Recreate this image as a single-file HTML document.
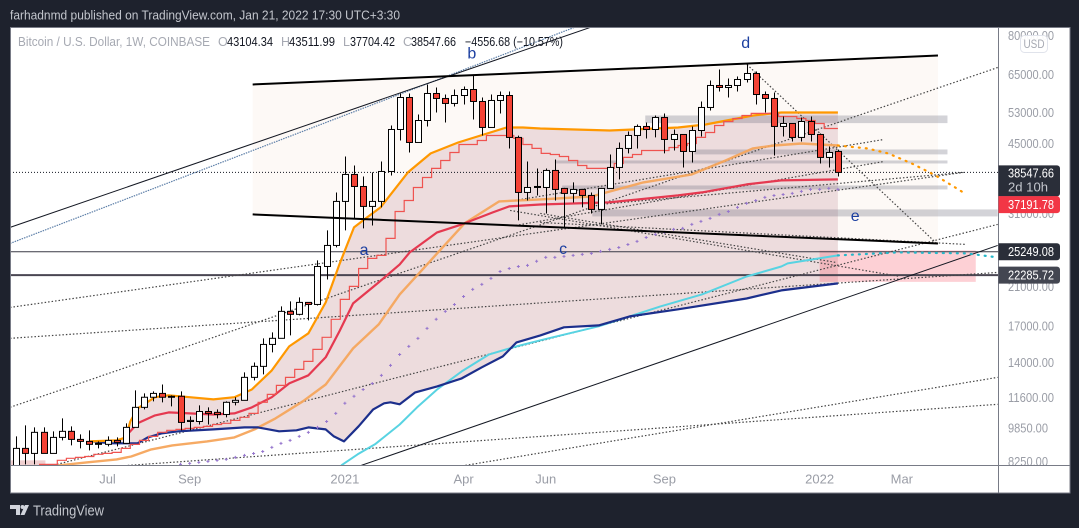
<!DOCTYPE html>
<html lang="en">
<head>
<meta charset="utf-8">
<title>Bitcoin / U.S. Dollar 1W chart</title>
<style>
html,body{margin:0;padding:0;width:1079px;height:528px;overflow:hidden;background:#1e222d}
svg{display:block;font-family:"Liberation Sans",sans-serif}
</style>
</head>
<body>
<svg id="root" xmlns="http://www.w3.org/2000/svg" width="1079" height="528" viewBox="0 0 1079 528">
  <defs>
    <clipPath id="pane"><rect x="11" y="28" width="987" height="437"/></clipPath>
  </defs>
  <rect x="0" y="0" width="1079" height="528" fill="#1e222d"/>
  <text x="10" y="19.5" font-size="13" fill="#c3c6cd" textLength="390" lengthAdjust="spacingAndGlyphs">farhadnmd published on TradingView.com, Jan 21, 2022 17:30 UTC+3:30</text>
  <rect x="10.5" y="27.5" width="1059.5" height="465.5" fill="#ffffff" stroke="#787b86" stroke-width="1"/>
  <g id="pane-layer" clip-path="url(#pane)"></g>
  <g id="axis-layer"></g>
  <line x1="10.5" y1="465.5" x2="1070" y2="465.5" stroke="#787b86"/>
  <line x1="998.5" y1="27.5" x2="998.5" y2="493" stroke="#787b86"/>
  <g font-size="12.5">
    <text x="18" y="46" fill="#a6a9b2" textLength="192" lengthAdjust="spacingAndGlyphs">Bitcoin / U.S. Dollar, 1W, COINBASE</text>
    <text x="218" y="46" fill="#a6a9b2">O</text>
    <text x="227" y="46" fill="#131722" textLength="46" lengthAdjust="spacingAndGlyphs">43104.34</text>
    <text x="281" y="46" fill="#a6a9b2">H</text>
    <text x="289" y="46" fill="#131722" textLength="46" lengthAdjust="spacingAndGlyphs">43511.99</text>
    <text x="343" y="46" fill="#a6a9b2">L</text>
    <text x="350" y="46" fill="#131722" textLength="45" lengthAdjust="spacingAndGlyphs">37704.42</text>
    <text x="403" y="46" fill="#a6a9b2">C</text>
    <text x="411" y="46" fill="#131722" textLength="45" lengthAdjust="spacingAndGlyphs">38547.66</text>
    <text x="465" y="46" fill="#131722" textLength="98" lengthAdjust="spacingAndGlyphs">−4556.68 (−10.57%)</text>
  </g>
  <g id="tag-layer"></g>
  <g>
    <rect x="1020.5" y="35.5" width="27" height="17" rx="4" fill="#ffffff" fill-opacity="0.92" stroke="#e0e3eb"/>
    <text x="1034" y="48" font-size="12" fill="#a6a9b2" text-anchor="middle" textLength="21" lengthAdjust="spacingAndGlyphs">USD</text>
  </g>
  <g>
    <path d="M10 505h10v10h-4v-6h-6zM25 505h4l-4.500 10h-4z" fill="#d1d4dc"/>
    <circle cx="22.500" cy="507" r="2" fill="#d1d4dc"/>
    <text x="33" y="515.500" font-size="15" fill="#c3c6cd" textLength="71" lengthAdjust="spacingAndGlyphs">TradingView</text>
  </g>
</svg>
<script>
/* ---------- candle data (USD) ---------- */
var opens  = [7870,8846,8612,9636,8612,9380,9688,9280,9182,9086,9038,9230,9086,9895,11010,11620,11860,11680,11680,10210,10210,10770,10720,10600,11310,11430,12920,13700,15400,15910,18370,18080,19270,19060,23340,26110,33020,38130,35760,32150,33020,38740,48460,57480,45220,50840,58720,57180,55680,58090,59980,56270,48990,56570,58090,46450,34640,35570,35570,38950,35390,34460,35200,34090,31640,35390,39580,43800,46940,49250,48460,51670,45950,47190,43100,48200,54500,61280,60630,61280,63270,65330,58400,57180,49250,50040,46450,50570,47190,41750,43104];
var highs  = [9430,10000,9895,9895,9688,10380,9947,9532,9740,9182,9430,9380,10110,12050,11860,11990,12440,11740,11990,10490,11130,11010,10890,11370,11620,13270,13990,15910,16420,18860,19370,19790,19270,24110,28290,34640,41970,40000,37720,38540,40860,49510,58720,58720,52500,61610,60630,58400,59980,60960,64630,57480,58400,59350,59350,46900,40860,39370,39370,41300,35500,36540,35300,34640,35500,42420,45220,47950,49780,50310,52220,52790,48460,47190,49250,56270,62930,66740,63610,64290,68540,66030,59350,59030,51940,50040,51670,51940,47440,44270,43512];
var lows   = [7500,8125,8125,8612,8612,9230,8990,8846,8750,8846,8942,8942,9086,9895,10890,11370,11310,11070,9740,9740,10050,10050,10380,10440,11130,11430,12710,13130,14760,15910,16160,17980,17510,18960,21780,25840,28290,30160,28590,29050,31980,37920,45700,42870,45220,49250,53070,50310,54790,55380,51120,46940,48990,52790,43800,29840,33190,34090,30970,33190,28750,32840,31980,30970,29210,35390,37130,42650,43800,46200,46450,42650,43330,39580,40650,46690,53630,59350,57480,59350,62270,55380,53070,42190,46690,45460,45460,45460,40430,39580,37704];
var closes = [8846,8612,9636,8612,9380,9688,9280,9182,9038,9038,9230,9134,9895,11010,11620,11860,11620,11620,10160,10270,10770,10660,10600,11310,11430,12920,13700,15400,15910,18370,18080,19270,19060,23340,26110,33020,38130,35760,32150,33020,38740,48460,57480,45220,50840,58720,57180,55680,58090,59980,56270,48990,56570,58090,46450,34640,35570,35760,38950,35200,34460,35200,34090,31640,35390,39580,43800,46940,49250,48460,51670,45950,47190,43100,48200,54500,61280,60630,61280,63270,65330,58400,57180,49250,50040,46450,50570,47190,41750,42870,38547.66];

/* ---------- indicator series: week index + price ---------- */
var fastEmaWeeks  = [8,11,12,12.5,13.3,15.2,16.7,19,21.6,23.9,25.8,28,29.9,32,33.9,35.4,37,38,39.9,42.9,45.4,48.4,53.7,55.5,57.4,65,72.5,75.5,80.7,83.8,90];
var fastEmaPrices = [9182,9230,9380,10210,10950,11620,11740,11620,11490,11620,12110,13410,15240,16340,19270,23600,28750,29840,31980,38540,42650,45220,48990,48990,48720,48200,48990,49780,52220,53070,53070];
var midEmaWeeks   = [12.4,13.3,15.2,16.7,19,21.6,23.9,25.8,28,29.9,32,33.9,35.4,36.9,39.7,42,43.1,46.1,48.8,52.2,54,57.4,64.9,72.5,75.1,80,83.8,90];
var midEmaPrices  = [9636,10110,10550,10720,10660,10600,10660,11010,11620,12510,13060,14380,16510,19170,21440,23600,25160,27990,29210,31140,32150,32490,32840,34090,34640,36150,36930,37130];
var slowEmaWeeks  = [4.6,7.7,11,12.6,14.8,17.1,20.9,23.9,26.1,28.4,31.4,33.9,35.4,36.9,39.7,42,45,49.1,52.9,57.4,63,68.7,74,77.7,80.7,83,86,90];
var slowEmaPrices = [8080,8210,8340,8470,8800,8990,9180,9380,9790,10380,11370,12440,13700,15080,17140,20110,23600,29370,33020,33370,33900,36540,38130,41080,43800,44500,44980,44500];
var slowProjWeeks  = [90,93.2,95.5,98.1,100.7,104.1];
var slowProjPrices = [44500,43800,42650,40430,37920,34270];
var longEmaWeeks  = [8.4,10.3,13.3,14.4,15.9,17.8,21.6,25,26.5,28.8,30.7,32,33.9,34.8,35.9,37.5,39.1,40.3,41,42,43.7,46.1,48.8,51,53.3,54.8,57.4,60,63.8,67.2,72.5,80,83.8,90];
var longEmaPrices = [9180,9090,9090,9380,9580,9690,9790,9895,9895,9690,9740,9895,9790,9430,9180,9950,10890,11250,11310,11190,11925,12310,12850,13630,14450,15570,16160,16870,17050,17880,18570,19680,20540,21320];
var cyanWeeks  = [35.6,37.4,39.3,42,43.9,46.1,48.8,51.8,54.8,57.4,63.8,67.2,70.6,75.1,80,83.8,84.5,90];
var cyanPrices = [8080,8570,9040,10050,11010,12110,13340,14600,15240,15740,16960,17880,18870,20110,22130,23340,23720,24760];
var cyanProjWeeks  = [90,96.6,104.1,107.5];
var cyanProjPrices = [24760,25160,25030,24500];

/* weekly step line, starts at week 3 */
var stepStartWeek = 3;
var stepPrices = [8124,8124,8300,8390,8430,8470,8570,8612,8658,8846,9038,9230,9430,9636,9740,9791,9843,9895,9947,10050,10110,10270,10440,10660,11310,11800,12380,12920,13480,14070,15000,16000,17610,19580,20990,23090,24370,24760,27110,31300,33190,35570,37520,39370,41080,42870,44740,44740,45700,46940,46940,46940,46200,44740,43800,42650,42420,41970,41080,40000,39370,39370,39370,40430,41750,42420,43330,43330,43330,44030,44500,44980,46450,47700,49510,50570,51390,52220,52790,52790,52790,51940,51940,51390,50840,50040,48720,48720];

/* weekly plus-marker series, starts at week 18 */
var plusStartWeek = 18;
var plusPrices = [8124,8168,8212,8256,8300,8344,8430,8520,8610,8700,8894,9086,9230,9430,9636,9895,10210,10660,11250,11680,12110,12500,13060,13770,14600,15240,15910,16780,17610,18370,19060,19890,20650,21210,21900,22720,23090,23340,23470,24000,24500,24500,24630,24760,24890,25030,25300,25570,25830,26250,26680,27240,27690,27990,28440,28590,29210,29680,30160,30810,31300,31980,32670,33190,33730,34090,34270,34460,34830,35200,35200,35390,35200];

/* ---------- drawings: week1, price1, week2, price2 ---------- */
var wedgeTop    = [25.9,61610,100.96,71900];
var wedgeBottom = [25.9,30810,100.96,26390];
var channelTop   = [-0.68,28750,62.85,83490];
var channelBlue  = [-0.68,26390,61.1,83490];
var channelLower = [37.8,8080,107.5,26110];
var dottedTrends = [
  [-0.68,11010,107.5,67450],
  [-0.68,18760,103.7,38540],
  [-0.68,15910,107.5,22610],
  [4.47,8124,107.5,29210],
  [49.2,8080,107.5,12920],
  [4.58,7870,107.5,11190],
  [54.6,33190,95.05,45950],
  [54.7,29050,95.05,40860],
  [63.9,32490,103.8,38540],
  [80.04,68540,100.7,26530],
  [54.1,31470,96.8,22130],
  [57.4,30970,89.8,23850],
  [57.4,29520,104.1,26250]
];
/* zones: week1, week2, high price, low price */
var grayZones = [
  [68.9,102,52220,50140],
  [74.3,102,43560,42430],
  [59,102,41080,40430],
  [59.8,102,35950,35200],
  [63.1,107.5,31640,30480]
];
var pinkZone = [88,105.1,25430,21500];
var cornerZone = [-0.68,3.2,8300,8000];

var hLevels = [25249.08,22285.72];
var lastPrice = 38547.66;

var waveLabels = ['a','b','c','d','e'];
var waveWeeks  = [38.1,49.9,59.9,79.9,91.9];
var wavePrices = [25430,72400,25570,76700,30480];

var priceTicks = [80000,65000,53000,45000,31000,21000,17000,14000,11600,9850,8250];
var timeLabels = ['Jul','Sep','2021','Apr','Jun','Sep','2022','Mar'];
var timeWeeks  = [10,19,36,49,58,71,88,97];

/* ---------- scales ---------- */
function xScale(week){ return 16.2 + 9.13 * week; }
function yScale(price){ return 35.5 + 187.5 * Math.log(80000 / price); }

var NS = 'http://www.w3.org/2000/svg';
var pane = document.getElementById('pane-layer');
var axisLayer = document.getElementById('axis-layer');
var tagLayer = document.getElementById('tag-layer');

function make(tag, parent, attrs){
  var el = document.createElementNS(NS, tag);
  for (var k in attrs) el.setAttribute(k, attrs[k]);
  parent.appendChild(el);
  return el;
}
function pointsOf(weeks, prices){
  return weeks.map(function(w,i){ return xScale(w).toFixed(1)+','+yScale(prices[i]).toFixed(1); });
}
function drawSeg(seg, stroke, width, dash, name){
  var attrs = {x1:xScale(seg[0]),y1:yScale(seg[1]),x2:xScale(seg[2]),y2:yScale(seg[3]),stroke:stroke,'stroke-width':width};
  if (dash) attrs['stroke-dasharray'] = dash;
  var el = make('line', pane, attrs);
  
  
}
function drawLine(weeks, prices, stroke, width, opacity, dash, name){
  var attrs = {points:pointsOf(weeks,prices).join(' '),fill:'none',stroke:stroke,'stroke-width':width,'stroke-opacity':opacity,'stroke-linejoin':'round'};
  if (dash) { attrs['stroke-dasharray'] = dash; attrs['stroke-linecap'] = 'round'; }
  var el = make('polyline', pane, attrs);
  
  
}
function drawZone(week1, week2, hi, lo, fill, name){
  var el = make('rect', pane, {x:xScale(week1),y:yScale(hi),width:xScale(week2)-xScale(week1),height:yScale(lo)-yScale(hi),fill:fill});
  
  
}

/* wedge background */
var wedge = make('polygon', pane, {points:[
  xScale(wedgeTop[0])+','+yScale(wedgeTop[1]),
  xScale(wedgeTop[2])+','+yScale(wedgeTop[3]),
  xScale(wedgeBottom[2])+','+yScale(wedgeBottom[3]),
  xScale(wedgeBottom[0])+','+yScale(wedgeBottom[1])
].join(' '),fill:'#fdf9f6'});



/* EMA cloud */
var cloud = make('polygon', pane, {points:pointsOf(fastEmaWeeks,fastEmaPrices).concat(pointsOf(longEmaWeeks,longEmaPrices).reverse()).join(' '),fill:'#eddcdd'});



drawZone(cornerZone[0],cornerZone[1],cornerZone[2],cornerZone[3],'#f0cfd0','corner-zone');
grayZones.forEach(function(z,i){
  drawZone(z[0],z[1],z[2],z[3],'rgba(110,110,125,0.3)','resistance-zone-'+(i+1));
});
drawZone(pinkZone[0],pinkZone[1],pinkZone[2],pinkZone[3],'rgba(250,100,115,0.3)','support-zone');

/* horizontal levels */
hLevels.forEach(function(p,i){
  var el = make('line', pane, {x1:10,x2:998,y1:yScale(p),y2:yScale(p),stroke:i===0?'#3a3a46':'#4a4652','stroke-width':i===0?1:2});
  
  
});
var lastLine = make('line', pane, {x1:10,x2:998,y1:yScale(lastPrice),y2:yScale(lastPrice),stroke:'#131722','stroke-width':1,'stroke-dasharray':'1 2'});



/* trend lines */
dottedTrends.forEach(function(seg,i){
  drawSeg(seg,'#444444',1.2,'1.5 2','dotted-trend-'+(i+1));
});
drawSeg(channelBlue,'#5d7fa8',1.2,'1.5 1','channel-dotted-blue');
drawSeg(channelTop,'#131722',1,null,'channel-top');
drawSeg(channelLower,'#131722',1,null,'channel-lower');

/* indicators */
drawLine(slowEmaWeeks,slowEmaPrices,'#f5a55c',2.4,0.95,null,'slow-ema-line');
drawLine(slowProjWeeks,slowProjPrices,'#ff9800',2.2,1,'1 6','slow-ema-projection');
drawLine(cyanWeeks,cyanPrices,'#58d3e2',2,1,null,'cyan-ema-line');
drawLine(cyanProjWeeks,cyanProjPrices,'#26b6c8',2.2,1,'1 6','cyan-ema-projection');
drawLine(longEmaWeeks,longEmaPrices,'#1c2f8c',2.2,1,null,'long-ema-line');
drawLine(midEmaWeeks,midEmaPrices,'#e53950',2.2,1,null,'mid-ema-line');
drawLine(fastEmaWeeks,fastEmaPrices,'#ff9800',2.2,1,null,'fast-ema-line');

/* step line, ends at the last bar */
var stepPts = [];
stepPrices.forEach(function(p,i){
  var w = stepStartWeek + i;
  var end = i === stepPrices.length - 1 ? w : w + 0.5;
  stepPts.push(xScale(w-0.5).toFixed(1)+','+yScale(p).toFixed(1));
  stepPts.push(xScale(end).toFixed(1)+','+yScale(p).toFixed(1));
});
var step = make('polyline', pane, {points:stepPts.join(' '),fill:'none',stroke:'#ef5350','stroke-width':1.2});



/* plus markers */
var plusD = '';
plusPrices.forEach(function(p,i){
  var cx = xScale(plusStartWeek+i), cy = yScale(p);
  plusD += 'M'+(cx-1.5)+' '+cy+'h3M'+cx+' '+(cy-1.5)+'v3';
});
var plus = make('path', pane, {d:plusD,stroke:'#9575cd','stroke-width':1,fill:'none'});



/* candles */
closes.forEach(function(c,i){
  var o = opens[i], cx = Math.round(xScale(i))+0.5, up = c >= o;
  var g = make('g', pane, {});
  
  
  var wick = make('line', g, {x1:cx,x2:cx,y1:yScale(highs[i]),y2:yScale(lows[i]),stroke:'#000','stroke-width':1});
  
  
  var top = yScale(Math.max(o,c)), bot = yScale(Math.min(o,c));
  var body = make('rect', g, {x:cx-3,y:top,width:6,height:Math.max(bot-top,1),fill:up?'#ffffff':'#f44336',stroke:'#000','stroke-width':1});
  
  
});

/* wedge edges on top */
drawSeg(wedgeBottom,'#000',2,null,'wedge-bottom-line');
drawSeg(wedgeTop,'#000',2,null,'wedge-top-line');

/* wave labels */
waveLabels.forEach(function(t,i){
  var el = make('text', pane, {x:xScale(waveWeeks[i]),y:yScale(wavePrices[i]),'font-size':16,fill:'#1c3fa0','text-anchor':'middle','dominant-baseline':'central'});
  
  
  el.textContent = t;
});

/* price axis */
priceTicks.forEach(function(p){
  var t = p.toFixed(2);
  var el = make('text', axisLayer, {x:1008,y:yScale(p)+4.5,'font-size':13,fill:'#9a9da6',textLength:t.length===8?46:40,lengthAdjust:'spacingAndGlyphs'});
  
  
  el.textContent = t;
});
/* time axis */
timeLabels.forEach(function(t,i){
  var el = make('text', axisLayer, {x:xScale(timeWeeks[i]),y:483.5,'font-size':13,fill:'#9a9da6','text-anchor':'middle'});
  
  
  el.textContent = t;
});

/* price tags */
var tagTexts  = ['38547.66','37191.78','25249.08','22285.72'];
var tagFills  = ['#2a2e39','#f23645','#2a2e39','#434651'];
var tagPrices = [38547.66,32450,25249.08,22285.72];
var tagNames  = ['close-price-tag','red-level-tag','level-25249-tag','level-22285-tag'];
tagTexts.forEach(function(t,i){
  var cy = yScale(tagPrices[i]);
  var h = i===0 ? 31 : 17;
  var top = i===0 ? cy-7 : cy-8.5;
  var box = make('path', tagLayer, {d:'M998.500 '+top+'h58.500a3 3 0 0 1 3 3v'+(h-6)+'a3 3 0 0 1 -3 3h-58.500z',fill:tagFills[i]});
  
  
  var label = make('text', tagLayer, {x:1008,y:(i===0?cy+5:cy+4.5),'font-size':13,fill:'#ffffff',textLength:46,lengthAdjust:'spacingAndGlyphs'});
  
  
  label.textContent = t;
});
var countdown = make('text', tagLayer, {x:1008,y:yScale(lastPrice)+19,'font-size':13,fill:'#c3c6cd',textLength:40,lengthAdjust:'spacingAndGlyphs'});


countdown.textContent = '2d 10h';
</script>
</body>
</html>
